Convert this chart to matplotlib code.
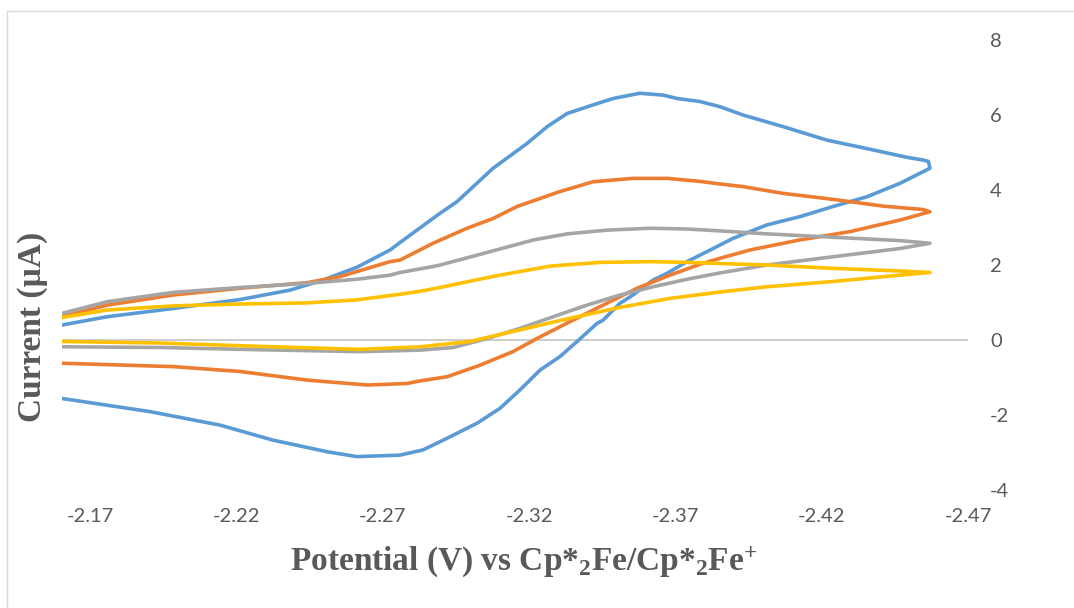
import matplotlib
matplotlib.use("Agg")
import matplotlib.pyplot as plt
from matplotlib.patches import Rectangle

# ---------------- data (potential V, current uA), full CV loops ----------------
blue_E = [-2.1604, -2.1758, -2.1984, -2.2213, -2.2383, -2.2496, -2.2612, -2.2725, -2.2759,
          -2.2896, -2.2954, -2.3077, -2.3193, -2.3262, -2.3330, -2.3419, -2.3487, -2.3579, -2.3658,
          -2.3706, -2.3784, -2.3853, -2.3931, -2.4068, -2.4218, -2.4375, -2.4492, -2.4546, -2.4565,
          -2.4570,
          -2.4468, -2.4355, -2.4239, -2.4126, -2.4013, -2.3897, -2.3819, -2.3740, -2.3672, -2.3624,
          -2.3555, -2.3511, -2.3453, -2.3432, -2.3364, -2.3306, -2.3238, -2.3169, -2.3101, -2.3022,
          -2.2920, -2.2838, -2.2759, -2.2612, -2.2510, -2.2325, -2.2144, -2.1905, -2.1604]
blue_I = [0.40, 0.62, 0.84, 1.08, 1.33, 1.60, 1.94, 2.40, 2.60,
          3.38, 3.69, 4.58, 5.24, 5.69, 6.04, 6.27, 6.44, 6.58, 6.53,
          6.44, 6.36, 6.22, 6.00, 5.69, 5.33, 5.07, 4.87, 4.80, 4.76,
          4.58,
          4.18, 3.82, 3.56, 3.29, 3.07, 2.71, 2.40, 2.09, 1.78, 1.60,
          1.20, 0.98, 0.53, 0.44, -0.04, -0.44, -0.80, -1.33, -1.82, -2.22,
          -2.62, -2.93, -3.07, -3.11, -2.98, -2.67, -2.27, -1.91, -1.56]

orange_E = [-2.1604, -2.1758, -2.1984, -2.2213, -2.2442, -2.2554, -2.2725, -2.2759, -2.2872,
            -2.2988, -2.3077, -2.3159, -2.3306, -2.3419, -2.3555, -2.3672, -2.3784, -2.3853, -2.3931,
            -2.4068, -2.4239, -2.4410, -2.4546, -2.4570,
            -2.4468, -2.4297, -2.4126, -2.3955, -2.3853, -2.3784, -2.3682, -2.3569, -2.3453, -2.3340,
            -2.3227, -2.3145, -2.3033, -2.2920, -2.2828, -2.2783, -2.2647, -2.2442, -2.2213, -2.1984,
            -2.1604]
orange_I = [0.62, 0.93, 1.20, 1.38, 1.53, 1.69, 2.09, 2.13, 2.58,
            2.98, 3.24, 3.56, 3.96, 4.22, 4.31, 4.31, 4.23, 4.16, 4.09,
            3.91, 3.75, 3.57, 3.48, 3.42,
            3.20, 2.89, 2.67, 2.40, 2.18, 2.02, 1.73, 1.38, 0.93, 0.49,
            0.04, -0.31, -0.67, -0.98, -1.09, -1.16, -1.20, -1.07, -0.84, -0.71,
            -0.62]

gray_E = [-2.1604, -2.1758, -2.1984, -2.2213, -2.2442, -2.2612, -2.2725, -2.2759, -2.2872, -2.2896,
          -2.3045, -2.3216, -2.3330, -2.3467, -2.3613, -2.3740, -2.3853, -2.4013, -2.4239, -2.4468,
          -2.4570,
          -2.4468, -2.4239, -2.4013, -2.3853, -2.3740, -2.3624, -2.3511, -2.3398, -2.3282, -2.3169,
          -2.3057, -2.2941, -2.2828, -2.2623, -2.2281, -2.1939, -2.1604]
gray_I = [0.71, 1.02, 1.27, 1.40, 1.51, 1.62, 1.73, 1.80, 1.96, 2.00,
          2.31, 2.67, 2.83, 2.93, 2.98, 2.96, 2.91, 2.83, 2.74, 2.65,
          2.58,
          2.44, 2.22, 2.00, 1.79, 1.62, 1.42, 1.20, 0.93, 0.62, 0.31,
          0.04, -0.20, -0.27, -0.31, -0.26, -0.20, -0.18]

yellow_E = [-2.1604, -2.1758, -2.1984, -2.2213, -2.2442, -2.2612, -2.2759, -2.2828, -2.2896,
            -2.3080, -2.3272, -2.3443, -2.3613, -2.3740, -2.3853, -2.4013, -2.4239, -2.4468, -2.4570,
            -2.4468, -2.4239, -2.4013, -2.3853, -2.3682, -2.3511, -2.3340, -2.3169, -2.2998, -2.2828,
            -2.2623, -2.2281, -2.1939, -2.1604]
yellow_I = [0.60, 0.80, 0.91, 0.96, 0.99, 1.07, 1.22, 1.30, 1.40,
            1.70, 1.97, 2.07, 2.09, 2.07, 2.04, 2.00, 1.91, 1.84, 1.80,
            1.73, 1.56, 1.42, 1.28, 1.11, 0.87, 0.58, 0.27, -0.04, -0.18,
            -0.25, -0.17, -0.08, -0.04]

x_ticks = [-2.17, -2.22, -2.27, -2.32, -2.37, -2.42, -2.47]
y_ticks = [-4, -2, 0, 2, 4, 6, 8]
x_label = "Potential (V) vs Cp*$_{2}$Fe/Cp*$_{2}$Fe$^{+}$"
y_label = "Current (\u00b5A)"

# ---------------- styling ----------------
plt.rcParams['mathtext.fontset'] = 'custom'
plt.rcParams['mathtext.rm'] = 'Liberation Serif:bold'
plt.rcParams['mathtext.it'] = 'Liberation Serif:bold'
plt.rcParams['mathtext.bf'] = 'Liberation Serif:bold'

W, H = 1074, 608
fig = plt.figure(figsize=(W / 100, H / 100), dpi=100)
L, R, T, B = 62, 968, 40, 490
ax = fig.add_axes([L / W, 1 - B / H, (R - L) / W, (B - T) / H])

# outer chart border (partly cropped in the reference)
fig.patches.append(Rectangle((7 / W, -0.1), 1.2, 1 - 11 / H + 0.1, transform=fig.transFigure,
                             fill=False, edgecolor='#D9D9D9', linewidth=1.0))

ax.axhline(0, color='#C8C8C8', linewidth=1.3, zorder=1)

colors = ['#5B9BD5', '#ED7D31', '#A5A5A5', '#FFC000']
for (E, I), c in zip([(blue_E, blue_I), (orange_E, orange_I), (gray_E, gray_I), (yellow_E, yellow_I)], colors):
    ax.plot(E, I, color=c, linewidth=2.6, solid_joinstyle='round', solid_capstyle='round', zorder=3)

ax.set_xlim(-2.1604, -2.47)
ax.set_ylim(-4, 8)
ax.set_xticks(x_ticks)
ax.set_xticklabels([f"{v:.2f}" for v in x_ticks])
ax.set_yticks(y_ticks)
ax.set_yticklabels([str(v) for v in y_ticks])
ax.yaxis.tick_right()
for s in ax.spines.values():
    s.set_visible(False)
ax.tick_params(axis='x', length=0, pad=13, labelsize=14.5, labelcolor='#595959')
ax.tick_params(axis='y', length=0, pad=16, labelsize=14.5, labelcolor='#595959')
for lbl in ax.get_xticklabels() + ax.get_yticklabels():
    lbl.set_fontfamily('Lato')
for lbl in ax.get_yticklabels():
    lbl.set_horizontalalignment('left')

fig.text(524 / W, 1 - 562 / H, x_label, ha='center', va='center', fontsize=24,
         fontfamily='Liberation Serif', fontweight='bold', color='#595959')
fig.text(33 / W, 1 - 327 / H, y_label, ha='center', va='center', rotation=90, fontsize=24,
         fontfamily='Liberation Serif', fontweight='bold', color='#595959')

fig.savefig('out.png', dpi=100)
